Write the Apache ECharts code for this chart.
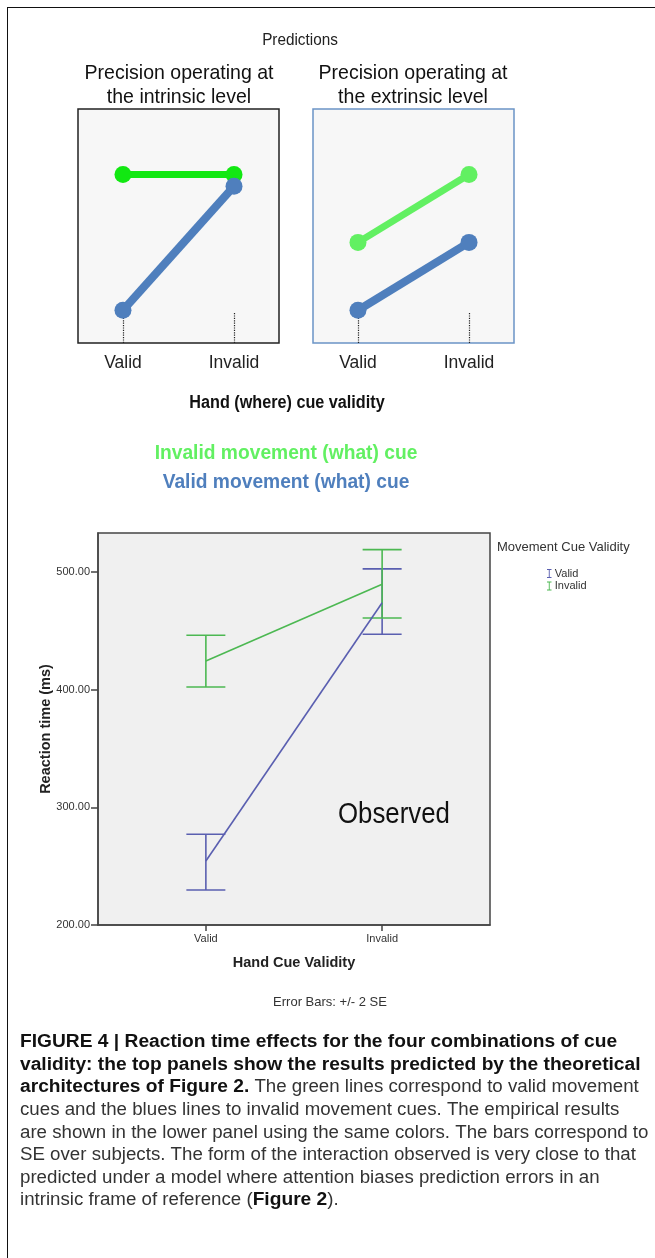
<!DOCTYPE html>
<html><head><meta charset="utf-8">
<script src="https://cdn.jsdelivr.net/npm/echarts@6/dist/echarts.min.js"></script>
<style>
html,body{margin:0;padding:0;background:#fff;overflow:hidden}
#c{width:655px;height:1258px;position:absolute;left:0;top:0}
#frame{position:absolute;left:7px;top:7px;width:700px;height:1300px;border-left:1.5px solid #111;border-top:1.5px solid #111;pointer-events:none}
</style></head><body>
<div id="c"></div><div id="frame"></div>
<script>
// ---- data ----
const handCues = ['Valid', 'Invalid'];
const movementCues = ['Valid', 'Invalid'];
// predictions (schematic, arbitrary units 0..10)
const intrinsicGreen = [7.2, 7.2];
const intrinsicBlue = [1.4, 6.7];
const extrinsicGreen = [4.3, 7.2];
const extrinsicBlue = [1.4, 4.3];
// observed reaction times (ms), mean and +/- 2 SE bounds
const validMean = [254.4, 473.8];
const validLow = [229.7, 447.0];
const validHigh = [277.1, 502.5];
const invalidMean = [424.3, 489.5];
const invalidLow = [402.2, 460.8];
const invalidHigh = [446.1, 518.9];
const yTicks = [200, 300, 400, 500];
// texts
const panelTitles = [['Precision operating at', 'the intrinsic level'], ['Precision operating at', 'the extrinsic level']];
const captionLines = [
  [['b', 'FIGURE 4 | Reaction time effects for the four combinations of cue']],
  [['b', 'validity: the top panels show the results predicted by the theoretical']],
  [['b', 'architectures of Figure 2.'], ['n', ' The green lines correspond to valid movement']],
  [['n', 'cues and the blues lines to invalid movement cues. The empirical results']],
  [['n', 'are shown in the lower panel using the same colors. The bars correspond to']],
  [['n', 'SE over subjects. The form of the interaction observed is very close to that']],
  [['n', 'predicted under a model where attention biases prediction errors in an']],
  [['n', 'intrinsic frame of reference ('], ['b', 'Figure 2'], ['n', ').']]
];

// ---- styles ----
const SANS = "'Liberation Sans',Arial,Helvetica,sans-serif";
const GREEN1 = '#12e812', GREEN2 = '#62f062', BLUE = '#4f7fbd';
const OBS_BLUE = '#5a5fb0', OBS_GREEN = '#4cb852';

const chart = echarts.init(document.getElementById('c'), null, {renderer: 'canvas'});

function pts(vals) { return vals.map((v, i) => [i, v]); }
function predX(gi) {
  return {
    type: 'value', gridIndex: gi, min: -0.405, max: 1.405,
    axisLine: {show: false, onZero: false}, splitLine: {show: false},
    axisTick: {show: true, inside: true, length: 31, customValues: [0, 1],
      lineStyle: {type: 'dotted', color: '#222', width: 1.2}},
    axisLabel: {customValues: [0, 1], formatter: v => handCues[Math.round(v)],
      fontFamily: SANS, fontSize: 17.5, color: '#222', margin: 11}
  };
}
function predY(gi) {
  return {type: 'value', gridIndex: gi, min: 0, max: 10, show: false};
}
function predLine(name, gi, vals, color, w) {
  return {
    type: 'line', name: name, xAxisIndex: gi, yAxisIndex: gi, data: pts(vals),
    symbol: 'circle', symbolSize: 17, showSymbol: true,
    lineStyle: {color: color, width: w}, itemStyle: {color: color},
    silent: true, animation: false
  };
}
function errSeries(name, means, lows, highs, color) {
  return {
    type: 'custom', name: name, xAxisIndex: 2, yAxisIndex: 2,
    data: means.map((m, i) => [i, m, lows[i], highs[i]]),
    encode: {x: 0, y: [2, 3]},
    itemStyle: {color: color},
    renderItem: function (params, api) {
      const x = api.value(0);
      const hi = api.coord([x, api.value(3)]);
      const lo = api.coord([x, api.value(2)]);
      const hw = 19.5;
      const st = {stroke: color, lineWidth: 1.6};
      return {type: 'group', children: [
        {type: 'line', shape: {x1: hi[0], y1: hi[1], x2: lo[0], y2: lo[1]}, style: st},
        {type: 'line', shape: {x1: hi[0] - hw, y1: hi[1], x2: hi[0] + hw, y2: hi[1]}, style: st},
        {type: 'line', shape: {x1: lo[0] - hw, y1: lo[1], x2: lo[0] + hw, y2: lo[1]}, style: st}
      ]};
    },
    animation: false
  };
}
function meanLine(name, means, color) {
  return {
    type: 'line', name: name, xAxisIndex: 2, yAxisIndex: 2, data: pts(means),
    showSymbol: false, symbol: 'none', lineStyle: {color: color, width: 1.6},
    itemStyle: {color: color}, animation: false
  };
}

function richLine(segs) {
  return segs.map(s => s[0] === 'b' ? '{b|' + s[1] + '}' : '{n|' + s[1] + '}').join('');
}

const graphics = [];
function txt(x, y, text, font, color, align, sx) {
  graphics.push({type: 'text', x: x, y: y, silent: true, scaleX: sx || 1,
    style: {text: text, font: font, fill: color || '#222', align: align || 'center', verticalAlign: 'middle'}});
}
txt(300, 40, 'Predictions', '17px ' + SANS, '#222', 'center', 0.9);
txt(179, 73, panelTitles[0][0], '21px ' + SANS, '#111', 'center', 0.93);
txt(179, 97, panelTitles[0][1], '21px ' + SANS, '#111', 'center', 0.93);
txt(413, 73, panelTitles[1][0], '21px ' + SANS, '#111', 'center', 0.93);
txt(413, 97, panelTitles[1][1], '21px ' + SANS, '#111', 'center', 0.93);
txt(287, 403, 'Hand (where) cue validity', 'bold 18px ' + SANS, '#111', 'center', 0.9);
txt(286, 453, 'Invalid movement (what) cue', 'bold 21px ' + SANS, GREEN2, 'center', 0.915);
txt(286, 482, 'Valid movement (what) cue', 'bold 21px ' + SANS, BLUE, 'center', 0.915);
txt(338, 815, 'Observed', '30px ' + SANS, '#111', 'left', 0.86);
txt(497, 547, 'Movement Cue Validity', '13px ' + SANS, '#333', 'left');
txt(330, 1002, 'Error Bars: +/- 2 SE', '13px ' + SANS, '#333');

captionLines.forEach((segs, i) => {
  graphics.push({type: 'text', x: 20, y: 1042 + i * 22.6, silent: true,
    style: {text: richLine(segs), fill: '#222', align: 'left', verticalAlign: 'middle',
      rich: {
        b: {font: 'bold 19.2px ' + SANS, fill: '#111'},
        n: {font: '18.7px ' + SANS, fill: '#333'}
      }}});
});

const option = {
  backgroundColor: '#fff',
  animation: false,
  grid: [
    {left: 78, top: 109, width: 201, height: 234, show: true, backgroundColor: '#f7f7f7', borderColor: '#222', borderWidth: 1.5},
    {left: 313, top: 109, width: 201, height: 234, show: true, backgroundColor: '#f7f7f7', borderColor: '#6b94c6', borderWidth: 1.5},
    {left: 98, top: 533, width: 392, height: 392, show: true, backgroundColor: '#f0f0f0', borderColor: '#444', borderWidth: 1.5}
  ],
  xAxis: [predX(0), predX(1), {
    type: 'value', gridIndex: 2, min: -0.612, max: 1.612,
    name: 'Hand Cue Validity', nameLocation: 'middle', nameGap: 30,
    nameTextStyle: {fontFamily: SANS, fontWeight: 'bold', fontSize: 14.5, color: '#222'},
    axisLine: {show: true, onZero: false, lineStyle: {color: '#444', width: 1.5}},
    splitLine: {show: false},
    axisTick: {show: true, length: 6, customValues: [0, 1], lineStyle: {color: '#444', width: 1.5}},
    axisLabel: {customValues: [0, 1], formatter: v => handCues[Math.round(v)],
      fontFamily: SANS, fontSize: 11, color: '#333', margin: 8}
  }],
  yAxis: [predY(0), predY(1), {
    type: 'value', gridIndex: 2, min: 200, max: 533, interval: 100,
    name: 'Reaction time (ms)', nameLocation: 'middle', nameGap: 45, nameRotate: 90,
    nameMoveOverlap: false,
    nameTextStyle: {fontFamily: SANS, fontWeight: 'bold', fontSize: 14.5, color: '#222'},
    axisLine: {show: true, onZero: false, lineStyle: {color: '#444', width: 1.5}},
    splitLine: {show: false},
    axisTick: {show: true, length: 7, customValues: yTicks, lineStyle: {color: '#444', width: 1.5}},
    axisLabel: {customValues: yTicks, formatter: v => v.toFixed(2),
      fontFamily: SANS, fontSize: 11, color: '#333', margin: 8}
  }],
  legend: {
    left: 542, top: 563, orient: 'vertical', itemWidth: 5, itemHeight: 9, itemGap: 1.5,
    textStyle: {fontFamily: SANS, fontSize: 11, color: '#333', padding: [0, 0, 0, -2]},
    selectedMode: false,
    data: movementCues.map(n => ({name: n, icon: 'path://M0,0h10v2h-4v16h4v2h-10v-2h4v-16h-4z'}))
  },
  graphic: graphics,
  series: [
    predLine('pi-green', 0, intrinsicGreen, GREEN1, 7),
    predLine('pi-blue', 0, intrinsicBlue, BLUE, 8),
    predLine('pe-green', 1, extrinsicGreen, GREEN2, 7),
    predLine('pe-blue', 1, extrinsicBlue, BLUE, 8),
    errSeries(movementCues[0], validMean, validLow, validHigh, OBS_BLUE),
    errSeries(movementCues[1], invalidMean, invalidLow, invalidHigh, OBS_GREEN),
    meanLine(movementCues[0], validMean, OBS_BLUE),
    meanLine(movementCues[1], invalidMean, OBS_GREEN)
  ]
};
chart.setOption(option);
</script>
</body></html>
